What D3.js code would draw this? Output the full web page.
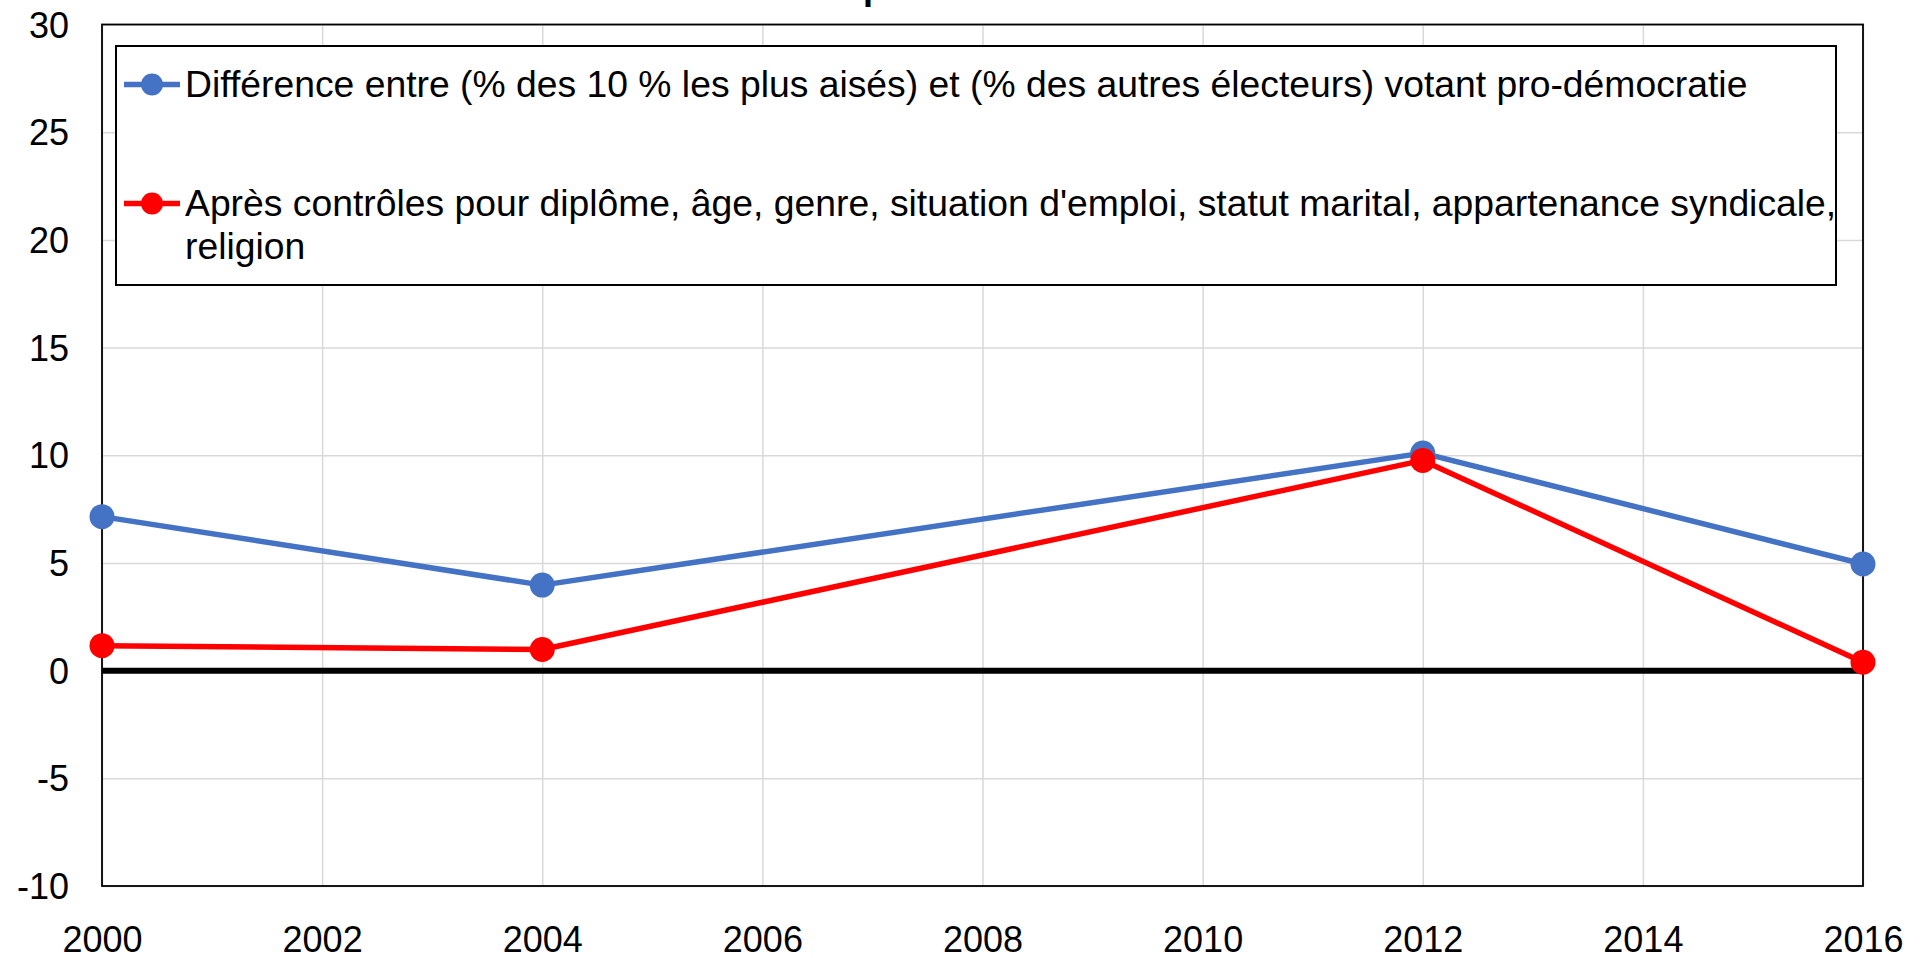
<!DOCTYPE html>
<html lang="fr">
<head>
  <meta charset="UTF-8">
  <title>Vote pro-démocratie</title>
  <style>
    body {
      margin: 0;
      background: #fff;
      overflow: hidden;
    }
    svg {
      display: block;
      font-family: 'Liberation Sans', Arial, sans-serif;
    }
    .grid line {
      stroke: #d9d9d9;
      stroke-width: 1.5;
    }
    .grid path {
      display: none;
    }
    .tick text {
      font-size: 36px;
      fill: #000;
    }
  </style>
  <script src="https://d3js.org/d3.v7.min.js"></script>
</head>
<body>
  <svg></svg>
  <script>
    const years = [2000, 2004, 2012, 2016];
    const diffRaw = [7.15, 3.97, 10.1, 4.95];
    const diffControls = [1.16, 0.98, 9.76, 0.39];
    const seriesNames = [
      "Différence entre (% des 10 % les plus aisés) et (% des autres électeurs) votant pro-démocratie",
      "Après contrôles pour diplôme, âge, genre, situation d'emploi, statut marital, appartenance syndicale,|religion"
    ];
    const seriesColors = ["#4472c4", "#ff0000"];
    const xTicks = [2000, 2002, 2004, 2006, 2008, 2010, 2012, 2014, 2016];
    const yTicks = [-10, -5, 0, 5, 10, 15, 20, 25, 30];

    const width = 1924, height = 958;
    const margin = { left: 102, right: 61, top: 24.5, bottom: 72 };

    const svg = d3.select("svg")
      .attr("width", width)
      .attr("height", height);

    const x = d3.scaleLinear()
      .domain([2000, 2016])
      .range([margin.left, width - margin.right]);

    const y = d3.scaleLinear()
      .domain([-10, 30])
      .range([height - margin.bottom, margin.top]);

    // title (only its descender shows above the frame)
    svg.append("text")
      .attr("x", 727)
      .attr("y", -1)
      .attr("font-size", 36)
      .attr("font-weight", "bold")
      .text("Le vote pro-démocratie selon le revenu");

    // grid + labels
    svg.append("g")
      .attr("class", "grid")
      .attr("transform", `translate(${margin.left},0)`)
      .call(d3.axisLeft(y).tickValues(yTicks).tickFormat(d => String(d))
        .tickSize(-(width - margin.left - margin.right)).tickPadding(33))
      .call(g => g.selectAll("text").attr("dy", "0.35em"));

    svg.append("g")
      .attr("class", "grid")
      .attr("transform", `translate(0,${height - margin.bottom})`)
      .call(d3.axisBottom(x).tickValues(xTicks).tickFormat(d => String(d))
        .tickSize(-(height - margin.top - margin.bottom)).tickPadding(40));

    // plot frame
    svg.append("rect")
      .attr("x", margin.left)
      .attr("y", margin.top)
      .attr("width", width - margin.left - margin.right)
      .attr("height", height - margin.top - margin.bottom)
      .attr("fill", "none")
      .attr("stroke", "#000")
      .attr("stroke-width", 1.8);

    // zero line
    svg.append("line")
      .attr("x1", x(2000))
      .attr("x2", x(2016))
      .attr("y1", y(0))
      .attr("y2", y(0))
      .attr("stroke", "#000")
      .attr("stroke-width", 6);

    const series = [diffRaw, diffControls];
    const line = d3.line()
      .x((d, i) => x(years[i]))
      .y(d => y(d));

    series.forEach((vals, s) => {
      svg.append("path")
        .datum(vals)
        .attr("d", line)
        .attr("fill", "none")
        .attr("stroke", seriesColors[s])
        .attr("stroke-width", 5.5)
        .attr("stroke-linejoin", "round");

      svg.selectAll(null)
        .data(vals)
        .join("circle")
        .attr("cx", (d, i) => x(years[i]))
        .attr("cy", d => y(d))
        .attr("r", 12.5)
        .attr("fill", seriesColors[s]);
    });

    // legend
    const legend = svg.append("g");
    legend.append("rect")
      .attr("x", 116)
      .attr("y", 46)
      .attr("width", 1720)
      .attr("height", 239)
      .attr("fill", "#fff")
      .attr("stroke", "#000")
      .attr("stroke-width", 2);

    const rowY = [84.5, 203.5];
    seriesNames.forEach((name, s) => {
      const row = legend.append("g").attr("transform", `translate(0,${rowY[s]})`);
      row.append("line")
        .attr("x1", 124).attr("x2", 180)
        .attr("stroke", seriesColors[s])
        .attr("stroke-width", 5.5);
      row.append("circle")
        .attr("cx", 152)
        .attr("r", 11)
        .attr("fill", seriesColors[s]);
      const t = row.append("text")
        .attr("x", 185)
        .attr("y", 12.5)
        .attr("font-size", 37.3)
        .attr("fill", "#000");
      name.split("|").forEach((part, k) => {
        t.append("tspan")
          .attr("x", 185)
          .attr("dy", k === 0 ? 0 : 43)
          .text(part);
      });
    });
  </script>
</body>
</html>
